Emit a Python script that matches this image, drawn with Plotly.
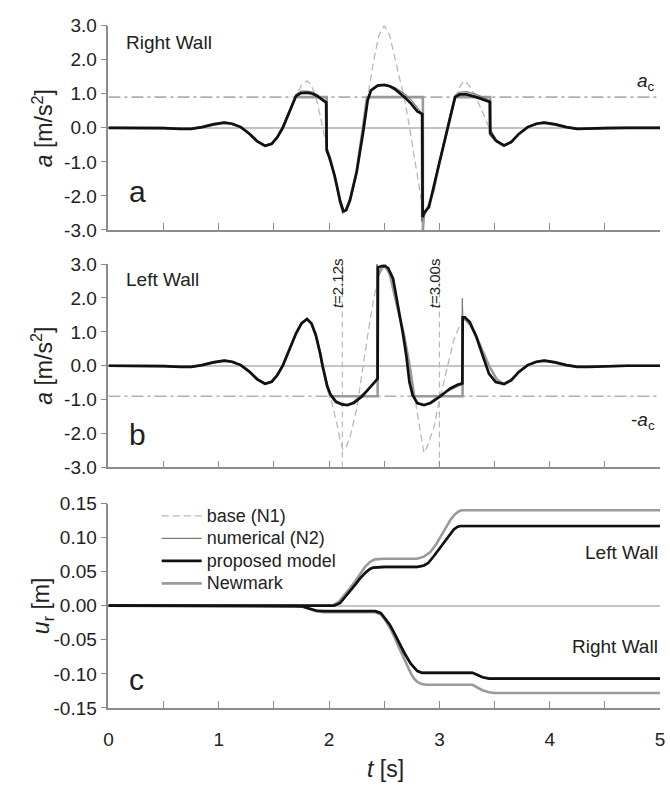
import plotly.graph_objects as go

# ---------------- data ----------------
A_C = 0.9  # critical acceleration [m/s^2]

# base input acceleration (N1), same for both walls
t_base = [0, 0.3, 0.5, 0.65, 0.75, 0.85, 0.95, 1.05, 1.12, 1.2, 1.28, 1.35, 1.42, 1.48, 1.53,
          1.58, 1.64, 1.70, 1.75, 1.80, 1.84, 1.88, 1.92, 1.94, 1.98, 2.015, 2.05, 2.08, 2.10,
          2.125, 2.15, 2.19, 2.25, 2.30, 2.35, 2.40, 2.45, 2.50, 2.55, 2.62, 2.68, 2.73, 2.77,
          2.82, 2.86, 2.90, 2.95, 3.00, 3.04, 3.09, 3.13, 3.19, 3.23, 3.28, 3.33, 3.40, 3.45,
          3.52, 3.58, 3.65, 3.72, 3.80, 3.88, 3.95, 4.05, 4.15, 4.25, 4.35, 4.5, 4.7, 5.0]
a_base = [0, 0, -0.01, -0.03, -0.03, 0.02, 0.10, 0.15, 0.12, 0.02, -0.18, -0.40, -0.53, -0.47, -0.28,
          0.0, 0.48, 0.95, 1.25, 1.38, 1.25, 0.90, 0.35, 0.0, -0.58, -0.95, -1.42, -1.85, -2.20,
          -2.48, -2.42, -2.10, -1.28, -0.15, 0.90, 1.90, 2.70, 3.0, 2.70, 1.71, 0.90, 0.0, -0.86,
          -1.81, -2.57, -2.30, -1.81, -1.00, -0.48, 0.25, 0.76, 1.24, 1.38, 1.20, 0.90, 0.40, 0.0,
          -0.40, -0.53, -0.42, -0.18, 0.02, 0.12, 0.15, 0.10, 0.02, -0.03, -0.03, -0.01, 0, 0]

# right wall acceleration - proposed model
t_r_prop = [0, 0.3, 0.5, 0.65, 0.75, 0.85, 0.95, 1.05, 1.12, 1.2, 1.28, 1.35, 1.42, 1.48, 1.53,
            1.58, 1.64, 1.70, 1.745, 1.80, 1.85, 1.894, 1.94, 1.975, 1.978, 2.00, 2.05, 2.08,
            2.10, 2.13, 2.155, 2.19, 2.25, 2.31, 2.35, 2.38, 2.44, 2.50, 2.55, 2.595, 2.64, 2.683,
            2.743, 2.80, 2.845, 2.848, 2.86, 2.876, 2.905, 2.95, 3.009, 3.053, 3.098, 3.142, 3.186,
            3.246, 3.334, 3.423, 3.458, 3.461, 3.512, 3.586, 3.65, 3.72, 3.80, 3.88, 3.95, 4.05,
            4.15, 4.25, 4.35, 4.5, 4.7, 5.0]
a_r_prop = [0, 0, -0.01, -0.03, -0.03, 0.02, 0.10, 0.15, 0.12, 0.02, -0.18, -0.40, -0.53, -0.47, -0.28,
            0.0, 0.48, 0.93, 1.02, 1.03, 1.00, 0.93, 0.82, 0.74, -0.66, -0.85, -1.40, -1.82,
            -2.15, -2.45, -2.42, -2.12, -1.30, -0.10, 0.81, 1.10, 1.24, 1.26, 1.22, 1.14, 1.03, 0.90,
            0.71, 0.48, 0.40, -2.62, -2.50, -2.43, -2.33, -1.70, -0.90, -0.29, 0.38, 0.90, 0.98,
            0.98, 0.90, 0.81, 0.76, -0.14, -0.38, -0.52, -0.42, -0.18, 0.02, 0.12, 0.15, 0.10,
            0.02, -0.03, -0.03, -0.01, 0, 0]

# right wall acceleration - numerical (N2)
t_r_num = [0, 0.3, 0.5, 0.65, 0.75, 0.85, 0.95, 1.05, 1.12, 1.2, 1.28, 1.35, 1.42, 1.48, 1.53,
           1.58, 1.64, 1.70, 1.745, 1.80, 1.85, 1.894, 1.94, 1.965, 1.968, 1.98, 2.00, 2.05, 2.08,
           2.10, 2.13, 2.155, 2.19, 2.25, 2.31, 2.35, 2.38, 2.44, 2.50, 2.55, 2.595, 2.64, 2.683,
           2.743, 2.80, 2.835, 2.838, 2.86, 2.876, 2.905, 2.95, 3.009, 3.053, 3.098, 3.142, 3.186,
           3.246, 3.334, 3.423, 3.45, 3.452, 3.512, 3.586, 3.65, 3.72, 3.80, 3.88, 3.95, 4.05,
           4.15, 4.25, 4.35, 4.5, 4.7, 5.0]
a_r_num = [0, 0, -0.01, -0.03, -0.03, 0.02, 0.10, 0.15, 0.12, 0.02, -0.18, -0.40, -0.53, -0.47, -0.28,
           0.0, 0.50, 0.98, 1.08, 1.08, 1.05, 0.97, 0.85, 0.78, -0.20, -0.62, -0.86, -1.41, -1.83,
           -2.16, -2.44, -2.41, -2.10, -1.27, -0.08, 0.84, 1.12, 1.25, 1.26, 1.24, 1.18, 1.10, 1.00,
           0.82, 0.60, 0.45, -2.75, -2.55, -2.45, -2.33, -1.68, -0.88, -0.27, 0.40, 0.95, 1.05,
           1.06, 0.98, 0.86, 0.80, -0.20, -0.40, -0.52, -0.42, -0.18, 0.02, 0.12, 0.15, 0.10,
           0.02, -0.03, -0.03, -0.01, 0, 0]

# right wall acceleration - Newmark
t_r_nm = [0, 0.3, 0.5, 0.65, 0.75, 0.85, 0.95, 1.05, 1.12, 1.2, 1.28, 1.35, 1.42, 1.48, 1.53,
          1.58, 1.64, 1.695, 1.978, 1.978, 2.015, 2.05, 2.08, 2.10, 2.125, 2.15, 2.19, 2.25, 2.30,
          2.345, 2.85, 2.85, 2.86, 2.90, 2.95, 3.00, 3.04, 3.09, 3.13, 3.145, 3.46, 3.46, 3.52,
          3.58, 3.65, 3.72, 3.80, 3.88, 3.95, 4.05, 4.15, 4.25, 4.35, 4.5, 4.7, 5.0]
a_r_nm = [0, 0, -0.01, -0.03, -0.03, 0.02, 0.10, 0.15, 0.12, 0.02, -0.18, -0.40, -0.53, -0.47, -0.28,
          0.0, 0.48, 0.90, 0.90, -0.60, -0.95, -1.42, -1.85, -2.20, -2.48, -2.42, -2.10, -1.28, -0.15,
          0.90, 0.90, -3.0, -2.57, -2.30, -1.81, -1.00, -0.48, 0.25, 0.76, 0.90, 0.90, -0.08, -0.40,
          -0.53, -0.42, -0.18, 0.02, 0.12, 0.15, 0.10, 0.02, -0.03, -0.03, -0.01, 0, 0]

# left wall acceleration - proposed model
t_l_prop = [0, 0.3, 0.5, 0.65, 0.75, 0.85, 0.95, 1.05, 1.12, 1.2, 1.28, 1.35, 1.42, 1.48, 1.53,
            1.58, 1.64, 1.70, 1.75, 1.80, 1.84, 1.88, 1.92, 1.94, 1.985, 2.015, 2.06, 2.12, 2.164,
            2.223, 2.30, 2.387, 2.44, 2.443, 2.476, 2.51, 2.536, 2.58, 2.624, 2.669, 2.70, 2.728,
            2.757, 2.80, 2.86, 2.92, 3.009, 3.098, 3.17, 3.208, 3.211, 3.23, 3.275, 3.334, 3.393,
            3.45, 3.51, 3.586, 3.65, 3.72, 3.80, 3.88, 3.95, 4.05, 4.15, 4.25, 4.35, 4.5, 4.7, 5.0]
a_l_prop = [0, 0, -0.01, -0.03, -0.03, 0.02, 0.10, 0.15, 0.12, 0.02, -0.18, -0.40, -0.53, -0.47, -0.28,
            0.0, 0.48, 0.95, 1.25, 1.38, 1.25, 0.90, 0.35, 0.0, -0.62, -0.86, -1.05, -1.14, -1.16,
            -1.10, -0.90, -0.57, -0.38, 2.90, 2.94, 2.93, 2.88, 2.57, 1.81, 0.95, 0.29, -0.48,
            -0.86, -1.10, -1.16, -1.10, -0.90, -0.67, -0.55, -0.52, 1.43, 1.43, 1.29, 0.86, 0.29,
            -0.24, -0.48, -0.54, -0.43, -0.18, 0.02, 0.12, 0.15, 0.10, 0.02, -0.03, -0.03, -0.01, 0, 0]

# left wall acceleration - numerical (N2)
t_l_num = [0, 0.3, 0.5, 0.65, 0.75, 0.85, 0.95, 1.05, 1.12, 1.2, 1.28, 1.35, 1.42, 1.48, 1.53,
           1.58, 1.64, 1.70, 1.75, 1.80, 1.84, 1.88, 1.92, 1.94, 1.985, 2.015, 2.06, 2.12, 2.164,
           2.223, 2.30, 2.387, 2.43, 2.432, 2.44, 2.476, 2.51, 2.536, 2.58, 2.624, 2.669, 2.70,
           2.728, 2.757, 2.80, 2.86, 2.92, 3.009, 3.098, 3.17, 3.205, 3.207, 3.212, 3.23, 3.275,
           3.334, 3.393, 3.45, 3.51, 3.586, 3.65, 3.72, 3.80, 3.88, 3.95, 4.05, 4.15, 4.25, 4.35,
           4.5, 4.7, 5.0]
a_l_num = [0, 0, -0.01, -0.03, -0.03, 0.02, 0.10, 0.15, 0.12, 0.02, -0.18, -0.40, -0.53, -0.47, -0.28,
           0.0, 0.48, 0.95, 1.25, 1.38, 1.25, 0.90, 0.35, 0.0, -0.64, -0.90, -1.10, -1.17, -1.17,
           -1.05, -0.84, -0.60, -0.45, 3.02, 2.92, 2.94, 2.93, 2.88, 2.57, 1.81, 0.95, 0.29,
           -0.48, -0.90, -1.13, -1.17, -1.06, -0.85, -0.70, -0.60, -0.56, 2.00, 1.43, 1.43, 1.29,
           0.86, 0.29, -0.24, -0.48, -0.54, -0.43, -0.18, 0.02, 0.12, 0.15, 0.10, 0.02, -0.03, -0.03,
           -0.01, 0, 0]

# left wall acceleration - Newmark
t_l_nm = [0, 0.3, 0.5, 0.65, 0.75, 0.85, 0.95, 1.05, 1.12, 1.2, 1.28, 1.35, 1.42, 1.48, 1.53,
          1.58, 1.64, 1.70, 1.75, 1.80, 1.84, 1.88, 1.92, 1.94, 1.98, 2.01, 2.44, 2.44, 2.45,
          2.50, 2.55, 2.62, 2.68, 2.73, 2.772, 3.21, 3.21, 3.23, 3.28, 3.33, 3.40, 3.45, 3.52,
          3.58, 3.65, 3.72, 3.80, 3.88, 3.95, 4.05, 4.15, 4.25, 4.35, 4.5, 4.7, 5.0]
a_l_nm = [0, 0, -0.01, -0.03, -0.03, 0.02, 0.10, 0.15, 0.12, 0.02, -0.18, -0.40, -0.53, -0.47, -0.28,
          0.0, 0.48, 0.95, 1.25, 1.38, 1.25, 0.90, 0.35, 0.0, -0.58, -0.90, -0.90, 2.62, 2.70,
          3.0, 2.70, 1.71, 0.90, 0.0, -0.90, -0.90, 1.35, 1.38, 1.20, 0.90, 0.40, 0.0, -0.40,
          -0.53, -0.42, -0.18, 0.02, 0.12, 0.15, 0.10, 0.02, -0.03, -0.03, -0.01, 0, 0]

# marked instants in panel b [s]
t_marks = [2.12, 3.00]
mark_labels = ["<i>t</i>=2.12s", "<i>t</i>=3.00s"]

# relative displacement u_r [m]
t_ul_prop = [0, 2.045, 2.10, 2.148, 2.19, 2.237, 2.28, 2.326, 2.37, 2.40, 2.50, 2.80, 2.86,
             2.90, 2.95, 3.00, 3.04, 3.09, 3.13, 3.165, 3.19, 5.0]
u_l_prop = [0, 0, 0.004, 0.013, 0.021, 0.031, 0.040, 0.048, 0.054, 0.056, 0.057, 0.057, 0.059,
            0.063, 0.073, 0.084, 0.093, 0.104, 0.112, 0.116, 0.117, 0.117]
t_ul_num = [0, 2.05, 2.10, 2.148, 2.19, 2.237, 2.28, 2.326, 2.37, 2.40, 2.50, 2.80, 2.86,
            2.90, 2.95, 3.00, 3.04, 3.09, 3.13, 3.165, 3.19, 5.0]
u_l_num = [0, 0, 0.003, 0.012, 0.020, 0.030, 0.039, 0.047, 0.053, 0.055, 0.056, 0.056, 0.058,
           0.062, 0.072, 0.083, 0.092, 0.103, 0.111, 0.115, 0.116, 0.116]
t_ul_nm = [0, 2.03, 2.09, 2.148, 2.19, 2.237, 2.28, 2.326, 2.37, 2.415, 2.50, 2.80, 2.86,
           2.92, 2.97, 3.01, 3.06, 3.10, 3.14, 3.17, 3.20, 5.0]
u_l_nm = [0, 0, 0.006, 0.017, 0.026, 0.036, 0.047, 0.057, 0.064, 0.068, 0.069, 0.069, 0.072,
          0.079, 0.090, 0.102, 0.115, 0.126, 0.134, 0.138, 0.140, 0.140]

t_ur_prop = [0, 1.70, 1.76, 1.82, 1.88, 1.94, 2.42, 2.47, 2.50, 2.55, 2.59, 2.64, 2.68, 2.74,
             2.77, 2.80, 2.84, 3.30, 3.35, 3.39, 3.45, 5.0]
u_r_prop = [0, 0, -0.001, -0.004, -0.007, -0.008, -0.008, -0.011, -0.017, -0.028, -0.040,
            -0.056, -0.069, -0.085, -0.091, -0.096, -0.0985, -0.0985, -0.102, -0.105, -0.107, -0.107]
t_ur_num = [0, 1.70, 1.76, 1.82, 1.88, 1.94, 2.42, 2.47, 2.50, 2.55, 2.59, 2.64, 2.68, 2.74,
            2.77, 2.80, 2.84, 3.30, 3.35, 3.39, 3.45, 5.0]
u_r_num = [0, 0, -0.001, -0.004, -0.007, -0.008, -0.008, -0.011, -0.016, -0.027, -0.039,
           -0.055, -0.068, -0.084, -0.090, -0.095, -0.0975, -0.0975, -0.101, -0.104, -0.106, -0.106]
t_ur_nm = [0, 1.70, 1.76, 1.82, 1.88, 1.95, 2.42, 2.47, 2.50, 2.55, 2.59, 2.64, 2.68, 2.74,
           2.77, 2.80, 2.84, 2.88, 3.30, 3.35, 3.39, 3.45, 3.50, 5.0]
u_r_nm = [0, 0, -0.0015, -0.005, -0.008, -0.0095, -0.0095, -0.013, -0.019, -0.032, -0.045,
          -0.064, -0.079, -0.099, -0.107, -0.112, -0.115, -0.116, -0.116, -0.120, -0.124, -0.127,
          -0.128, -0.128]

x_ticks = [0, 0.5, 1, 1.5, 2, 2.5, 3, 3.5, 4, 4.5, 5]
x_ticktext = ["0", "", "1", "", "2", "", "3", "", "4", "", "5"]
acc_ticks = [-3, -2, -1, 0, 1, 2, 3]
acc_ticktext = ["-3.0", "-2.0", "-1.0", "0.0", "1.0", "2.0", "3.0"]
disp_ticks = [-0.15, -0.10, -0.05, 0.0, 0.05, 0.10, 0.15]
disp_ticktext = ["-0.15", "-0.10", "-0.05", "0.00", "0.05", "0.10", "0.15"]

# ---------------- styles ----------------
FONT = "Arial, Liberation Sans, sans-serif"
TXT = "#222222"
AX = "#8c8c8c"
C_BASE = dict(color="#b8b8b8", width=1.3, dash="7px,4px")
C_NUM = dict(color="#7a7a7a", width=1.2)
C_PROP = dict(color="#111111", width=2.7)
C_NM = dict(color="#9a9a9a", width=2.6)
C_AC = dict(color="#b0b0b0", width=1.6, dash="12px,4px,3px,4px")
C_MARK = dict(color="#b8b8b8", width=1.2, dash="6px,4px")
TICK_SIZE = 19


def legend_name(s):
    # legend rows are spaced for a 15 px font; the label itself is drawn at 18 px
    return '<span style="font-size:18px">' + s + "</span>"


fig = go.Figure()


def line(x, y, style, ax, name=None, legend=False, rank=None):
    fig.add_trace(go.Scatter(
        x=x, y=y, mode="lines", line=style, xaxis="x" + ax, yaxis="y" + ax,
        name=legend_name(name) if name else None, showlegend=legend,
        legendrank=rank if rank else 1000, hoverinfo="skip"))


# panel a - right wall
line([0, 5], [A_C, A_C], C_AC, "")
line(t_base, a_base, C_BASE, "", "base (N1)", True, 1)
line(t_r_nm, a_r_nm, C_NM, "")
line(t_r_num, a_r_num, C_NUM, "")
line(t_r_prop, a_r_prop, C_PROP, "")

# panel b - left wall
line([0, 5], [-A_C, -A_C], C_AC, "2")
for tm in t_marks:
    line([tm, tm], [-3, 3], C_MARK, "2")
line(t_base, a_base, C_BASE, "2")
line(t_l_nm, a_l_nm, C_NM, "2")
line(t_l_num, a_l_num, C_NUM, "2")
line(t_l_prop, a_l_prop, C_PROP, "2")

# panel c - relative displacements
line(t_ul_nm, u_l_nm, C_NM, "3", "Newmark", True, 4)
line(t_ur_nm, u_r_nm, C_NM, "3")
line(t_ul_num, u_l_num, C_NUM, "3", "numerical (N2)", True, 2)
line(t_ur_num, u_r_num, C_NUM, "3")
line(t_ul_prop, u_l_prop, C_PROP, "3", "proposed model", True, 3)
line(t_ur_prop, u_r_prop, C_PROP, "3")

XDOM = [105 / 670, 665 / 670]
W, H = 670, 789


def ydom(top_px, bottom_px):
    return [1 - bottom_px / H, 1 - top_px / H]


def xax(anchor, labels):
    return dict(domain=XDOM, range=[0, 5], anchor=anchor, showgrid=False, zeroline=False,
                showline=True, linecolor=AX, linewidth=1.6, ticks="inside", ticklen=7,
                tickcolor=AX, tickwidth=1.4, tickvals=x_ticks, ticktext=x_ticktext,
                showticklabels=labels, ticklabelstandoff=13, ticklabeloverflow="allow",
                tickfont=dict(size=TICK_SIZE, color=TXT, family=FONT))


def yax(anchor, dom, rng, tv, tt):
    return dict(domain=dom, range=rng, anchor=anchor, showgrid=False, zeroline=True,
                zerolinecolor="#c4c4c4", zerolinewidth=1.6, showline=True, linecolor=AX,
                linewidth=1.6, ticks="outside", ticklen=6, tickcolor=AX, tickwidth=1.4,
                tickvals=tv, ticktext=tt, tickfont=dict(size=TICK_SIZE, color=TXT, family=FONT))


ann = []


def text(x, y, s, size=19, xref="paper", yref="paper", xanchor="center", yanchor="middle",
         angle=0):
    ann.append(dict(x=x, y=y, text=s, xref=xref, yref=yref, xanchor=xanchor, yanchor=yanchor,
                    textangle=angle, showarrow=False,
                    font=dict(size=size, color=TXT, family=FONT)))


# axis titles
text(38 / W, 1 - 121 / H, "<i>a</i> [m/s<sup>2</sup>]", 23, angle=-90)
text(38 / W, 1 - 365 / H, "<i>a</i> [m/s<sup>2</sup>]", 23, angle=-90)
text(38 / W, 1 - 612 / H, "<i>u</i><sub>r</sub> [m]", 23, angle=-90)
text(386 / W, 1 - 780 / H, "<i>t</i> [s]", 23)

# panel labels
text(121 / W, 1 - 33 / H, "Right Wall", 19, xanchor="left")
text(121 / W, 1 - 277 / H, "Left Wall", 19, xanchor="left")
text(665 / W, 1 - 557 / H, "Left Wall", 19, xanchor="right")
text(665 / W, 1 - 654 / H, "Right Wall", 19, xanchor="right")
text(124 / W, 1 - 186 / H, "a", 30, xanchor="left")
text(124 / W, 1 - 436 / H, "b", 30, xanchor="left")
text(124 / W, 1 - 688 / H, "c", 30, xanchor="left")
text(662 / W, 1 - 74 / H, "<i>a</i><sub>c</sub>", 19, xanchor="right")
text(662 / W, 1 - 422 / H, "-<i>a</i><sub>c</sub>", 19, xanchor="right")

# instants marked in panel b (text runs upward, just left of each line)
for tm, lab in zip(t_marks, mark_labels):
    text(tm - 0.05, 1 - 253 / H, lab, 15, xref="x2", yanchor="top", angle=-90)

fig.update_layout(
    width=W, height=H, margin=dict(l=0, r=0, t=0, b=0),
    paper_bgcolor="white", plot_bgcolor="white",
    font=dict(family=FONT, color=TXT),
    xaxis=xax("y", False), xaxis2=xax("y2", False), xaxis3=xax("y3", True),
    yaxis=yax("x", ydom(16, 226), [-3, 3], acc_ticks, acc_ticktext),
    yaxis2=yax("x2", ydom(261, 470), [-3, 3], acc_ticks, acc_ticktext),
    yaxis3=yax("x3", ydom(507, 717), [-0.15, 0.15], disp_ticks, disp_ticktext),
    legend=dict(x=154 / W, y=1 - 503 / H, xanchor="left", yanchor="top",
                bgcolor="rgba(0,0,0,0)", font=dict(size=15, color=TXT, family=FONT),
                tracegroupgap=0, itemwidth=40),
    annotations=ann,
)

fig.write_html("out.html")
